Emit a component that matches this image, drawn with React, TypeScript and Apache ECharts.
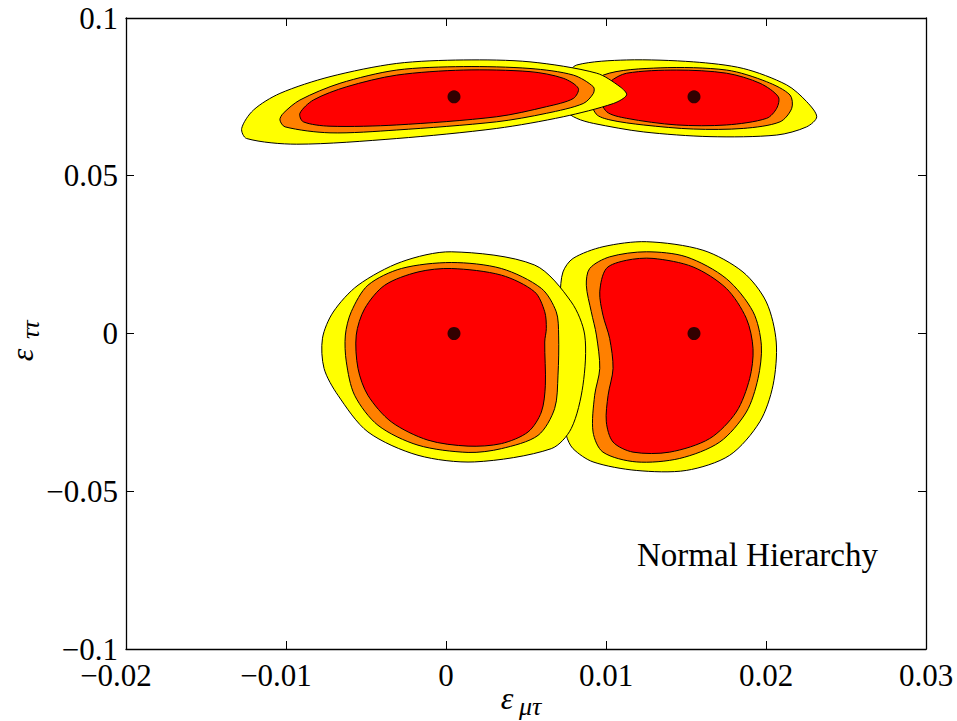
import React, { useEffect, useRef } from "react";
import * as echarts from "echarts";

// Axis ranges and tick steps
const xRange = [-0.02, 0.03];
const xStep = 0.01;
const yRange = [-0.1, 0.1];
const yStep = 0.05;

// Best-fit points
const bestFit = [
  [0.0005, 0.075],
  [0.0155, 0.075],
  [0.0005, 0.0],
  [0.0155, 0.0],
];

// Contours (epsilon_mu_tau, epsilon_tau_tau)
const bottomLeftYellow = [
  [-0.00772, -0.0015], [-0.00762, -0.0111], [-0.00675, -0.0196], [-0.00488, -0.0312],
  [-0.00175, -0.0386], [0.00179, -0.0407], [0.00658, -0.0365], [0.00783, -0.0301],
  [0.00856, -0.0164], [0.00867, -0.0005], [0.00783, 0.01], [0.00554, 0.0217],
  [0.00033, 0.0259], [-0.00279, 0.0227], [-0.0055, 0.0153], [-0.00705, 0.0068],
];
const bottomLeftOrange = [
  [0.00033, 0.0225], [0.00346, 0.0206], [0.00596, 0.0143], [0.00689, 0.0069],
  [0.00704, -0.0005], [0.007, -0.0132], [0.00679, -0.0238], [0.00575, -0.0323],
  [0.00346, -0.0365], [0.00138, -0.0377], [-0.00175, -0.0354], [-0.00425, -0.0291],
  [-0.00571, -0.0196], [-0.00623, -0.009], [-0.00629, -0.0005], [-0.00592, 0.0069],
  [-0.00488, 0.0153], [-0.00279, 0.0206],
];
const bottomLeftRed = [
  [0.00033, 0.0206], [0.00346, 0.0185], [0.00554, 0.0132], [0.00617, 0.0069],
  [0.00627, 0.0016], [0.00617, -0.0027], [0.00621, -0.0164], [0.00596, -0.0249],
  [0.00513, -0.0312], [0.00346, -0.0349], [0.00138, -0.0357], [-0.00113, -0.0338],
  [-0.00342, -0.028], [-0.00488, -0.0196], [-0.0055, -0.0111], [-0.00561, -0.0005],
  [-0.00508, 0.0079], [-0.00383, 0.0153], [-0.00175, 0.0195],
];
const bottomRightYellow = [
  [0.00981, 0.0275], [0.01252, 0.0291], [0.01606, 0.0264], [0.01856, 0.0195],
  [0.02002, 0.01], [0.02064, -0.0027], [0.02044, -0.0164], [0.01961, -0.028],
  [0.01773, -0.0386], [0.01502, -0.0434], [0.01189, -0.0434], [0.00919, -0.0407],
  [0.00794, -0.0365], [0.00752, -0.0323], [0.00713, -0.0212], [0.007, -0.0021],
  [0.00713, 0.0121], [0.00731, 0.0195], [0.00794, 0.0238],
];
const bottomRightOrange = [
  [0.00877, 0.0153], [0.00898, 0.0206], [0.01023, 0.0243], [0.01252, 0.0259],
  [0.01502, 0.0243], [0.01752, 0.0174], [0.01919, 0.0069], [0.01971, -0.0037],
  [0.0195, -0.0143], [0.01877, -0.0249], [0.01711, -0.0344], [0.01461, -0.0396],
  [0.01189, -0.0407], [0.00981, -0.0376], [0.00919, -0.0312], [0.00929, -0.0196],
  [0.00961, -0.0111], [0.0094, -0.0005], [0.00908, 0.0069],
];
const bottomRightRed = [
  [0.00961, 0.0132], [0.01002, 0.0206], [0.01127, 0.0232], [0.01294, 0.0238],
  [0.01544, 0.0211], [0.01752, 0.0143], [0.01877, 0.0048], [0.01919, -0.0048],
  [0.01898, -0.0143], [0.01814, -0.0249], [0.01648, -0.0333], [0.01398, -0.0376],
  [0.01169, -0.0376], [0.01044, -0.0344], [0.01002, -0.028], [0.01013, -0.0196],
  [0.01044, -0.0111], [0.01023, -0.0016], [0.00981, 0.0058],
];
const topLeftYellow = [
  [-0.01277, 0.065], [-0.01246, 0.0618], [-0.00933, 0.06], [-0.00308, 0.0618],
  [0.00317, 0.065], [0.00733, 0.0687], [0.01046, 0.0729], [0.01129, 0.0756],
  [0.01088, 0.0782], [0.00942, 0.0825], [0.00525, 0.0861], [0.00108, 0.0867],
  [-0.00308, 0.0856], [-0.00725, 0.0814], [-0.01038, 0.0761], [-0.01204, 0.0708],
];
const topLeftOrange = [
  [-0.01038, 0.0677], [-0.01006, 0.0655], [-0.00725, 0.0636], [-0.00308, 0.0645],
  [0.00317, 0.0671], [0.00629, 0.0698], [0.00858, 0.0729], [0.00921, 0.0761],
  [0.00921, 0.0782], [0.00796, 0.0819], [0.00525, 0.084], [0.00108, 0.0846],
  [-0.00308, 0.0835], [-0.00663, 0.0793], [-0.00913, 0.074], [-0.01017, 0.0698],
];
const topLeftRed = [
  [-0.00913, 0.0698], [-0.00892, 0.0671], [-0.00725, 0.0657], [-0.00308, 0.0661],
  [0.00317, 0.0687], [0.00629, 0.0719], [0.00796, 0.0745], [0.00827, 0.0777],
  [0.00733, 0.0809], [0.00525, 0.083], [0.00108, 0.0835], [-0.00308, 0.0819],
  [-0.00621, 0.0782], [-0.00829, 0.074],
];
const topRightYellow = [
  [0.00713, 0.0765], [0.0075, 0.0815], [0.00817, 0.0851], [0.01129, 0.0867],
  [0.01546, 0.0861], [0.01858, 0.084], [0.02129, 0.0788], [0.02254, 0.0735],
  [0.02317, 0.0687], [0.02254, 0.0655], [0.02067, 0.0629], [0.0165, 0.0624],
  [0.01233, 0.0639], [0.00921, 0.0666], [0.00817, 0.0682], [0.00744, 0.0708],
];
const topRightOrange = [
  [0.009, 0.0756], [0.00983, 0.0819], [0.01338, 0.0842], [0.01754, 0.0835],
  [0.02004, 0.0798], [0.0215, 0.0756], [0.02161, 0.0714], [0.02088, 0.0671],
  [0.01858, 0.065], [0.01546, 0.0648], [0.01233, 0.0661], [0.01025, 0.0677],
  [0.00938, 0.0696],
];
const topRightRed = [
  [0.00963, 0.0756], [0.01025, 0.0798], [0.01129, 0.0825], [0.01442, 0.0835],
  [0.01754, 0.0825], [0.01963, 0.0793], [0.02077, 0.075], [0.02067, 0.0714],
  [0.02004, 0.0682], [0.01754, 0.0661], [0.01442, 0.0661], [0.01129, 0.0682],
  [0.01004, 0.0703],
];

const YELLOW = "#ffff00";
const ORANGE = "#ff8000";
const RED = "#ff0000";

// Drawing order (later on top)
const layers: [number[][], string][] = [
  [bottomRightYellow, YELLOW], [bottomRightOrange, ORANGE], [bottomRightRed, RED],
  [bottomLeftYellow, YELLOW], [bottomLeftOrange, ORANGE], [bottomLeftRed, RED],
  [topRightYellow, YELLOW], [topRightOrange, ORANGE], [topRightRed, RED],
  [topLeftYellow, YELLOW], [topLeftOrange, ORANGE], [topLeftRed, RED],
];

const SERIF = '"Liberation Serif", "Times New Roman", serif';

function fmtNum(v: number) {
  const r = Number(v.toFixed(4));
  if (r === 0) return "0";
  return (r < 0 ? "\u2212" : "") + String(Math.abs(r));
}
function fmtX(v: number) {
  const s = fmtNum(v);
  return v < -1e-9 ? `{neg|${s}}` : `{pos|${s}}`;
}

export default function App() {
  const ref = useRef<HTMLDivElement>(null);
  useEffect(() => {
    if (!ref.current) return;
    document.body.style.margin = "0";
    document.body.style.overflow = "hidden";
    const chart = echarts.init(ref.current, undefined, { renderer: "svg" });
    const axisLine = { show: true, onZero: false, lineStyle: { color: "#000", width: 1.3 } };
    const tick = { show: true, inside: true, length: 8, lineStyle: { color: "#000", width: 1 } };
    const txt = { color: "#000", fontFamily: SERIF, fontSize: 31 };

    const series: any[] = layers.map(([pts, color]) => ({
      type: "custom",
      coordinateSystem: "cartesian2d",
      data: pts,
      silent: true,
      renderItem: (params: any, api: any) => {
        if (params.dataIndex !== 0) return null;
        const points = pts.map((p) => api.coord(p));
        return {
          type: "polygon",
          shape: { points, smooth: 0.3 },
          style: { fill: color, stroke: "#000", lineWidth: 1 },
        };
      },
    }));
    series.push({
      type: "scatter",
      data: bestFit,
      symbol: "circle",
      symbolSize: 13,
      itemStyle: { color: "#000" },
      silent: true,
      z: 5,
    });

    chart.setOption({
      animation: false,
      backgroundColor: "#fff",
      grid: { left: 126, top: 18, right: 31, bottom: 72, containLabel: false },
      xAxis: [
        {
          type: "value", position: "bottom", min: xRange[0], max: xRange[1], interval: xStep,
          axisLine, axisTick: tick, splitLine: { show: false },
          axisLabel: {
            ...txt, margin: 11, formatter: fmtX,
            rich: {
              neg: { ...txt, padding: [0, 20, 0, 0] },
              pos: { ...txt },
            },
          },
        },
        {
          type: "value", position: "top", min: xRange[0], max: xRange[1], interval: xStep,
          axisLine, axisTick: tick, splitLine: { show: false }, axisLabel: { show: false },
        },
      ],
      yAxis: [
        {
          type: "value", position: "left", min: yRange[0], max: yRange[1], interval: yStep,
          axisLine, axisTick: tick, splitLine: { show: false },
          axisLabel: { ...txt, margin: 8, formatter: fmtNum },
        },
        {
          type: "value", position: "right", min: yRange[0], max: yRange[1], interval: yStep,
          axisLine, axisTick: tick, splitLine: { show: false }, axisLabel: { show: false },
        },
      ],
      graphic: [
        {
          type: "text", left: 637, top: 538,
          style: { text: "Normal Hierarchy", fill: "#000", font: `33px ${SERIF}` },
        },
        {
          type: "text", x: 507, y: 698,
          style: { text: "\u03b5", fill: "#000", font: `italic 32px ${SERIF}`, align: "center", verticalAlign: "middle" },
        },
        {
          type: "text", x: 519, y: 706,
          style: { text: "\u03bc\u03c4", fill: "#000", font: `italic 26px ${SERIF}`, align: "left", verticalAlign: "middle" },
        },
        {
          type: "text", x: 22, y: 355, rotation: Math.PI / 2,
          style: { text: "\u03b5", fill: "#000", font: `italic 32px ${SERIF}`, align: "center", verticalAlign: "middle" },
        },
        {
          type: "text", x: 30, y: 339, rotation: Math.PI / 2,
          style: { text: "\u03c4\u03c4", fill: "#000", font: `italic 26px ${SERIF}`, align: "left", verticalAlign: "middle" },
        },
      ],
      series,
    });
    return () => chart.dispose();
  }, []);
  return <div ref={ref} style={{ width: 957, height: 721 }} />;
}
